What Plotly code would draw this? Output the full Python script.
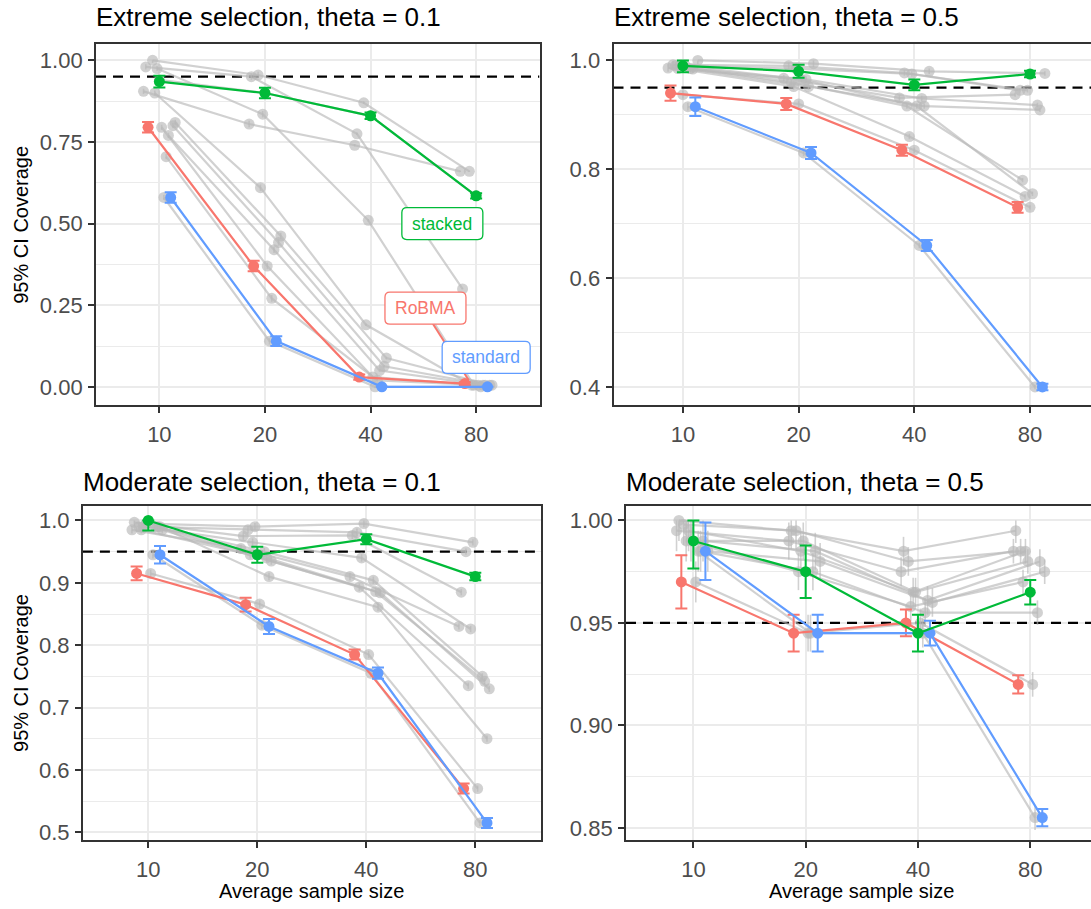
import plotly.graph_objects as go

# ------------------------------------------------------------------
# Coverage of 95% CIs by average primary-study sample size
# ------------------------------------------------------------------
sample_sizes = ["10", "20", "40", "80"]

# Extreme selection, theta = 0.1
ext_01_stacked = [0.935, 0.900, 0.830, 0.585]
ext_01_stacked_se = [0.018, 0.016, 0.010, 0.008]
ext_01_robma = [0.795, 0.370, 0.030, 0.010]
ext_01_robma_se = [0.016, 0.016, 0.008, 0.004]
ext_01_standard = [0.580, 0.140, 0.000, 0.000]
ext_01_standard_se = [0.016, 0.015, 0.000, 0.000]
ext_01_other = [
    [1.000, 0.955, 0.870, 0.660],
    [0.980, 0.950, 0.775, 0.300],
    [0.975, 0.835, 0.510, 0.005],
    [0.905, 0.805, 0.740, 0.660],
    [0.900, 0.610, 0.190, 0.005],
    [0.810, 0.462, 0.088, 0.005],
    [0.800, 0.442, 0.063, 0.005],
    [0.770, 0.420, 0.050, 0.005],
    [0.795, 0.370, 0.030, 0.005],
    [0.705, 0.271, 0.020, 0.005],
    [0.580, 0.140, 0.000, 0.000],
    [0.940, 0.900, 0.830, 0.585],
]
ext_01_other_se = [0.008, 0.010, 0.004, 0.002]

# Extreme selection, theta = 0.5
ext_05_stacked = [0.990, 0.980, 0.955, 0.975]
ext_05_stacked_se = [0.012, 0.012, 0.010, 0.006]
ext_05_robma = [0.940, 0.920, 0.835, 0.730]
ext_05_robma_se = [0.014, 0.011, 0.010, 0.010]
ext_05_standard = [0.915, 0.830, 0.660, 0.400]
ext_05_standard_se = [0.017, 0.011, 0.010, 0.006]
ext_05_other = [
    [1.000, 0.994, 0.980, 0.976],
    [0.992, 0.990, 0.977, 0.945],
    [0.990, 0.985, 0.975, 0.945],
    [0.986, 0.967, 0.931, 0.937],
    [0.985, 0.965, 0.930, 0.918],
    [0.984, 0.952, 0.916, 0.909],
    [0.990, 0.960, 0.916, 0.780],
    [0.985, 0.952, 0.860, 0.750],
    [0.990, 0.965, 0.916, 0.755],
    [0.937, 0.920, 0.835, 0.730],
    [0.915, 0.830, 0.660, 0.400],
]
ext_05_other_se = [0.007, 0.006, 0.005, 0.004]

# Moderate selection, theta = 0.1
mod_01_stacked = [1.000, 0.945, 0.970, 0.910]
mod_01_stacked_se = [0.016, 0.013, 0.008, 0.006]
mod_01_robma = [0.915, 0.865, 0.785, 0.570]
mod_01_robma_se = [0.011, 0.011, 0.008, 0.008]
mod_01_standard = [0.945, 0.830, 0.755, 0.515]
mod_01_standard_se = [0.014, 0.012, 0.009, 0.008]
mod_01_other = [
    [0.995, 0.990, 0.995, 0.965],
    [0.990, 0.985, 0.981, 0.950],
    [0.997, 0.975, 0.976, 0.885],
    [0.990, 0.965, 0.940, 0.826],
    [0.985, 0.955, 0.910, 0.830],
    [0.990, 0.950, 0.904, 0.750],
    [0.985, 0.945, 0.893, 0.735],
    [0.990, 0.940, 0.886, 0.742],
    [0.985, 0.935, 0.884, 0.730],
    [0.990, 0.910, 0.861, 0.650],
    [0.915, 0.866, 0.785, 0.570],
    [0.945, 0.832, 0.755, 0.515],
]
mod_01_other_se = [0.006, 0.006, 0.006, 0.005]

# Moderate selection, theta = 0.5
mod_05_stacked = [0.990, 0.975, 0.945, 0.965]
mod_05_stacked_se = [0.0135, 0.0128, 0.009, 0.006]
mod_05_robma = [0.970, 0.945, 0.950, 0.920]
mod_05_robma_se = [0.013, 0.009, 0.0065, 0.0045]
mod_05_standard = [0.985, 0.945, 0.945, 0.855]
mod_05_standard_se = [0.014, 0.009, 0.006, 0.0042]
mod_05_other = [
    [1.000, 0.995, 0.985, 0.995],
    [0.998, 0.995, 0.980, 0.985],
    [0.995, 0.990, 0.975, 0.985],
    [0.995, 0.985, 0.965, 0.985],
    [0.990, 0.990, 0.965, 0.980],
    [0.990, 0.985, 0.961, 0.980],
    [0.985, 0.980, 0.960, 0.975],
    [0.990, 0.975, 0.958, 0.970],
    [0.985, 0.975, 0.955, 0.955],
    [0.970, 0.945, 0.950, 0.920],
    [0.985, 0.945, 0.945, 0.855],
]
mod_05_other_se = [0.010, 0.009, 0.007, 0.006]

nominal_coverage = 0.95

# ------------------------------------------------------------------
# Styling
# ------------------------------------------------------------------
W, H = 1091, 909
FONT = "Liberation Sans, Arial, Helvetica, sans-serif"
COL = {"stacked": "#00BA38", "RoBMA": "#F8766D", "standard": "#619CFF"}
GREY = "rgba(185,185,185,0.65)"
GRID = "#EBEBEB"
INK = "#333333"

# dodge slots (position_dodge over 15 methods)
N_SLOTS, DODGE = 15, 0.30
SLOT = {"RoBMA": 2, "stacked": 7, "standard": 12}
other_slots = [
    [4, 1, 6, 0, 5, 14, 13, 11, 8, 10, 9, 7],
    [13, 3, 6, 1, 10, 11, 4, 5, 8, 7, 9],
    [6, 3, 1, 5, 0, 10, 4, 11, 13, 12, 8, 9],
    [1, 3, 0, 5, 6, 11, 13, 4, 10, 8, 9],
]


def offset(slot):
    return (slot - (N_SLOTS - 1) / 2) * DODGE / (N_SLOTS - 1)


def ci_bars(vals, se):
    # intervals are truncated at a coverage of 1
    return [min(s, 1 - v) for v, s in zip(vals, se)], list(se)


panels = [
    dict(title="Extreme selection, theta = 0.1", px=(96, 539.5), py=(44.7, 407.7),
         xr=(-0.6, 3.6), yr=(-0.057, 1.0487),
         yt=[0, 0.25, 0.5, 0.75, 1.0], ytext=["0.00", "0.25", "0.50", "0.75", "1.00"],
         ym=[0.125, 0.375, 0.625, 0.875], left=True,
         series=(ext_01_stacked, ext_01_stacked_se, ext_01_robma, ext_01_robma_se,
                 ext_01_standard, ext_01_standard_se, ext_01_other, ext_01_other_se)),
    dict(title="Extreme selection, theta = 0.5", px=(613.5, 1091), py=(44.7, 407.7),
         xr=(-0.6, 3.527), yr=(0.366, 1.0293),
         yt=[0.4, 0.6, 0.8, 1.0], ytext=["0.4", "0.6", "0.8", "1.0"],
         ym=[0.5, 0.7, 0.9], left=False,
         series=(ext_05_stacked, ext_05_stacked_se, ext_05_robma, ext_05_robma_se,
                 ext_05_standard, ext_05_standard_se, ext_05_other, ext_05_other_se)),
    dict(title="Moderate selection, theta = 0.1", px=(82.9, 540.7), py=(508.3, 845),
         xr=(-0.6, 3.6), yr=(0.487, 1.024),
         yt=[0.5, 0.6, 0.7, 0.8, 0.9, 1.0], ytext=["0.5", "0.6", "0.7", "0.8", "0.9", "1.0"],
         ym=[0.55, 0.65, 0.75, 0.85, 0.95], left=True,
         series=(mod_01_stacked, mod_01_stacked_se, mod_01_robma, mod_01_robma_se,
                 mod_01_standard, mod_01_standard_se, mod_01_other, mod_01_other_se)),
    dict(title="Moderate selection, theta = 0.5", px=(626, 1091), py=(508.3, 845),
         xr=(-0.6, 3.541), yr=(0.8439, 1.0073),
         yt=[0.85, 0.90, 0.95, 1.00], ytext=["0.85", "0.90", "0.95", "1.00"],
         ym=[0.875, 0.925, 0.975], left=False,
         series=(mod_05_stacked, mod_05_stacked_se, mod_05_robma, mod_05_robma_se,
                 mod_05_standard, mod_05_standard_se, mod_05_other, mod_05_other_se)),
]

fig = go.Figure()
layout = dict(width=W, height=H, margin=dict(l=0, r=0, t=0, b=0),
              paper_bgcolor="white", plot_bgcolor="white", showlegend=False,
              font=dict(family=FONT, color="black"))
annotations, shapes = [], []
xpos = list(range(len(sample_sizes)))

for i, p in enumerate(panels, start=1):
    sfx = "" if i == 1 else str(i)
    xa, ya = "x" + sfx, "y" + sfx
    (stk, stk_se, rob, rob_se, std, std_se, others, others_se) = p["series"]

    # nominal coverage reference line
    fig.add_trace(go.Scatter(
        x=list(p["xr"]), y=[nominal_coverage, nominal_coverage], xaxis=xa, yaxis=ya,
        mode="lines", line=dict(color="black", width=2.3, dash="10px,7px"),
        hoverinfo="skip", cliponaxis=True))

    # other methods in grey
    for vals, slot in zip(others, other_slots[i - 1]):
        up, lo = ci_bars(vals, others_se)
        fig.add_trace(go.Scatter(
            x=[x + offset(slot) for x in xpos], y=vals, xaxis=xa, yaxis=ya,
            mode="lines+markers", line=dict(color=GREY, width=2.2),
            marker=dict(color=GREY, size=11),
            error_y=dict(type="data", array=up, arrayminus=lo, color=GREY,
                         thickness=1.6, width=0),
            hoverinfo="skip"))

    # highlighted methods
    for name, vals, se in (("RoBMA", rob, rob_se), ("standard", std, std_se), ("stacked", stk, stk_se)):
        up, lo = ci_bars(vals, se)
        fig.add_trace(go.Scatter(
            x=[x + offset(SLOT[name]) for x in xpos], y=vals, xaxis=xa, yaxis=ya,
            mode="lines+markers", name=name, line=dict(color=COL[name], width=2.2),
            marker=dict(color=COL[name], size=11),
            error_y=dict(type="data", array=up, arrayminus=lo, color=COL[name],
                         thickness=2, width=6)))

    dom_x = [p["px"][0] / W, p["px"][1] / W]
    dom_y = [1 - p["py"][1] / H, 1 - p["py"][0] / H]
    axis_common = dict(showline=True, linecolor=INK, linewidth=1.8, ticks="outside",
                       ticklen=6, tickwidth=1.6, tickcolor=INK, zeroline=False,
                       showgrid=True, gridcolor=GRID, gridwidth=1.6,
                       tickfont=dict(family=FONT, size=22, color="#4D4D4D"))
    layout["xaxis" + sfx] = dict(axis_common, domain=dom_x, anchor=ya, range=list(p["xr"]),
                                 tickmode="array", tickvals=xpos, ticktext=sample_sizes,
                                 mirror=True, fixedrange=True, ticklabelstandoff=2)
    layout["yaxis" + sfx] = dict(axis_common, domain=dom_y, anchor=xa, range=list(p["yr"]),
                                 tickmode="array", tickvals=p["yt"], ticktext=p["ytext"],
                                 mirror=p["left"], fixedrange=True, ticklabelstandoff=1,
                                 minor=dict(tickvals=p["ym"], showgrid=True, gridcolor=GRID,
                                            gridwidth=0.8, ticks=""))

    # panel title
    cap_mid = 17.5 if p["py"][0] < 100 else 484.5
    annotations.append(dict(text=p["title"], xref="paper", yref="paper",
                            x=(p["px"][0] - 2) / W, y=1 - cap_mid / H,
                            xanchor="left", yanchor="middle", showarrow=False,
                            font=dict(size=26, color="black")))

# axis titles
for yc in (226, 676.7):
    annotations.append(dict(text="95% CI Coverage", xref="paper", yref="paper",
                            x=21 / W, y=1 - yc / H, textangle=-90, showarrow=False,
                            xanchor="center", yanchor="middle", font=dict(size=20)))
for xc in (311.8, 861.9):
    annotations.append(dict(text="Average sample size", xref="paper", yref="paper",
                            x=xc / W, y=1 - 896 / H, showarrow=False,
                            xanchor="center", yanchor="middle", font=dict(size=20)))

# method labels in the first panel
labels = [("stacked", 2.68, 0.50, 81, 32), ("RoBMA", 2.52, 0.241, 81, 32),
          ("standard", 3.095, 0.09, 88, 32)]
shapes.append(dict(type="line", xref="x", yref="y", x0=2.59, y0=0.193, x1=2.93, y1=0.02,
                   line=dict(color=COL["RoBMA"], width=2), layer="above"))
for name, lx, ly, bw, bh in labels:
    r, hw, hh = 5, bw / 2, bh / 2
    path = (f"M {-hw + r},{-hh} L {hw - r},{-hh} Q {hw},{-hh} {hw},{-hh + r} "
            f"L {hw},{hh - r} Q {hw},{hh} {hw - r},{hh} L {-hw + r},{hh} "
            f"Q {-hw},{hh} {-hw},{hh - r} L {-hw},{-hh + r} Q {-hw},{-hh} {-hw + r},{-hh} Z")
    shapes.append(dict(type="path", xref="x", yref="y", xsizemode="pixel", ysizemode="pixel",
                       xanchor=lx, yanchor=ly, path=path, fillcolor="white",
                       line=dict(color=COL[name], width=1.3), layer="above"))
    annotations.append(dict(text=name, xref="x", yref="y", x=lx, y=ly, showarrow=False,
                            xanchor="center", yanchor="middle",
                            font=dict(size=17.5, color=COL[name])))

layout["annotations"] = annotations
layout["shapes"] = shapes
fig.update_layout(**layout)
fig.write_html("out.html")
